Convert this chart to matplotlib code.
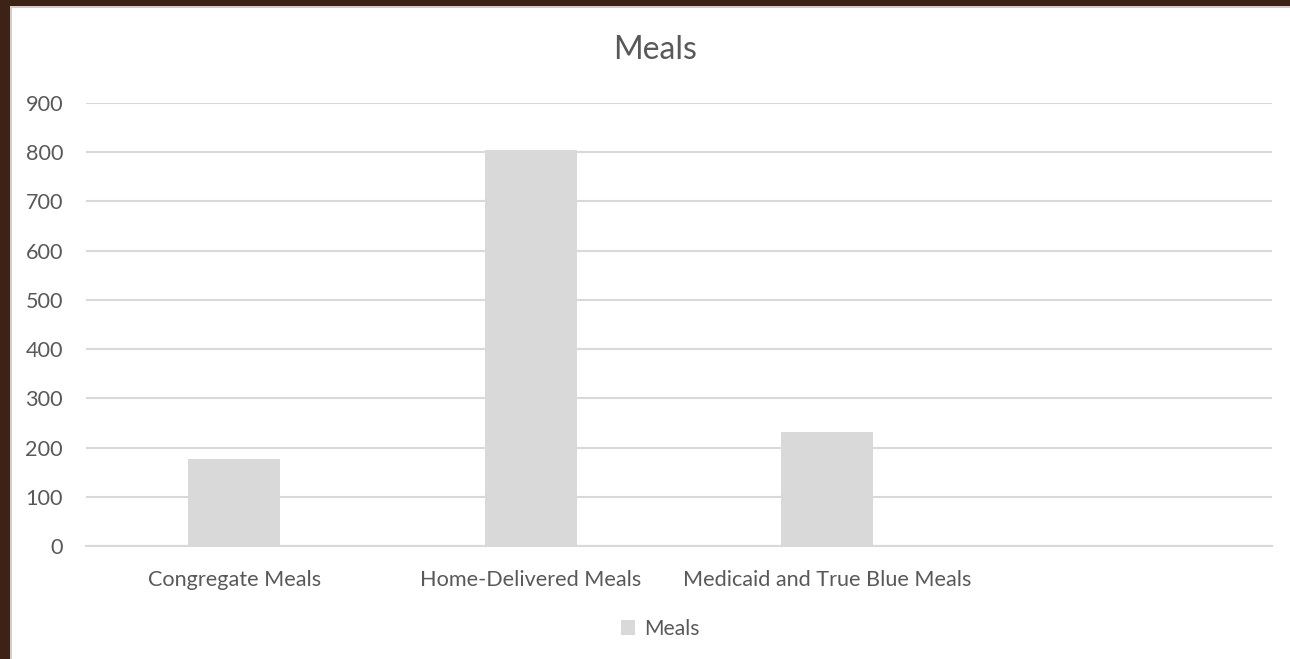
import matplotlib
matplotlib.use("Agg")
import matplotlib.pyplot as plt
from matplotlib.patches import Rectangle

categories = ["Congregate Meals", "Home-Delivered Meals", "Medicaid and True Blue Meals", ""]
meals = [177, 804, 232, 0]
yticks = [0, 100, 200, 300, 400, 500, 600, 700, 800, 900]

plt.rcParams['font.family'] = ['Lato', 'DejaVu Sans']
txt = '#595959'
W, H = 1290, 659

fig = plt.figure(figsize=(W / 100, H / 100), dpi=100)
fig.patch.set_facecolor('white')

# brown frame on top and left edge
fig.patches.append(Rectangle((0, 1 - 6 / H), 1, 6 / H, transform=fig.transFigure,
                             facecolor='#3d2316', edgecolor='none', zorder=0))
fig.patches.append(Rectangle((0, 0), 10 / W, 1, transform=fig.transFigure,
                             facecolor='#3d2316', edgecolor='none', zorder=0))
fig.patches.append(Rectangle((10 / W, 0), 1.5 / W, 1 - 6 / H, transform=fig.transFigure,
                             facecolor='#cfcfcf', edgecolor='none', zorder=0))
fig.patches.append(Rectangle((10 / W, 1 - 7.5 / H), 1, 1.5 / H, transform=fig.transFigure,
                             facecolor='#cfcfcf', edgecolor='none', zorder=0))

ax = fig.add_axes([86 / W, 1 - 546 / H, (1272 - 86) / W, (546 - 103) / H])
x = list(range(len(categories)))
bars = ax.bar(x[:3], meals[:3], width=0.31, color='#d9d9d9', label='Meals', zorder=2)
ax.set_xlim(-0.5, 3.5)
ax.set_ylim(0, 900)
ax.set_yticks(yticks)
ax.set_yticklabels([str(v) for v in yticks])
ax.set_xticks(x)
ax.set_xticklabels(categories)
ax.yaxis.grid(True, color='#d9d9d9', lw=1.5)
ax.set_axisbelow(True)
for s in ['top', 'right', 'left']:
    ax.spines[s].set_visible(False)
ax.spines['bottom'].set_color('#d9d9d9')
ax.spines['bottom'].set_linewidth(1.5)
ax.tick_params(axis='both', length=0, colors=txt, labelsize=15.6)
ax.tick_params(axis='y', pad=16.5)
ax.tick_params(axis='x', pad=17)

fig.text(655 / W, 1 - 50 / H, 'Meals', ha='center', va='center', fontsize=23, color=txt)

leg = fig.legend(handles=[bars], labels=['Meals'], loc='center', bbox_to_anchor=(660 / W, 1 - 629 / H),
                 frameon=False, fontsize=15.2, handlelength=0.7, handleheight=0.7, handletextpad=0.4)
for t in leg.get_texts():
    t.set_color(txt)

fig.savefig('out.png', dpi=100, facecolor='white')
